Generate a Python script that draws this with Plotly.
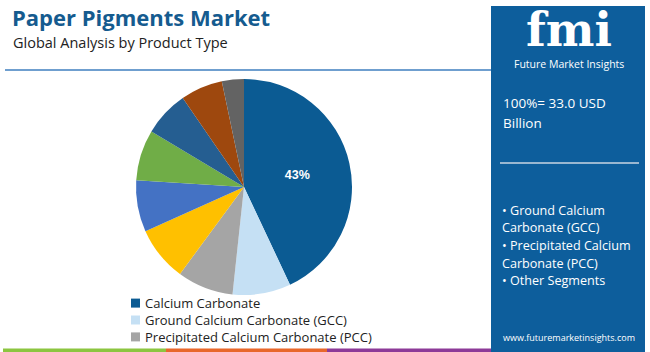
import plotly.graph_objects as go

W, H = 650, 352

labels = ["Calcium Carbonate", "Ground Calcium Carbonate (GCC)", "Precipitated Calcium Carbonate (PCC)",
          "Kaolin", "Titanium Dioxide", "Talc", "Gypsum", "Silica", "Others"]
values = [43.0, 8.7, 8.4, 8.2, 7.7, 7.6, 6.8, 6.3, 3.3]
colors = ["#0b5b93", "#c5e0f4", "#a5a5a5", "#ffc000", "#4472c4", "#70ad47", "#255e91", "#9e480e", "#636363"]
slice_text = ["<b>43%</b>", "", "", "", "", "", "", "", ""]
legend_labels = labels[:3]
legend_colors = colors[:3]
bullets = ["• Ground Calcium", "Carbonate (GCC)", "• Precipitated Calcium", "Carbonate (PCC)", "• Other Segments"]

FONT = "Open Sans"
BLUE = "#0d5e9c"

def px(x):
    return x / W

def py(y):
    return 1 - y / H

fig = go.Figure()

cx, cy, r = 244, 187, 108
fig.add_trace(go.Pie(
    labels=labels, values=values, sort=False, direction="clockwise", rotation=0,
    marker=dict(colors=colors, line=dict(width=0)),
    text=slice_text, textinfo="text", textposition="inside", insidetextorientation="horizontal",
    textfont=dict(family="Liberation Sans, Arial", size=12.5, color="white"),
    domain=dict(x=[px(cx - r), px(cx + r)], y=[py(cy + r), py(cy - r)]),
    showlegend=False, hoverinfo="label+percent",
))

shapes = []
annotations = []

# title line
shapes.append(dict(type="line", xref="paper", yref="paper", x0=px(5), x1=px(491), y0=py(70), y1=py(70),
                   line=dict(color="#3f7fbf", width=1.5)))
# bottom strip
for x0, x1, c in [(3, 166, "#8cc540"), (166, 327, "#e8672b"), (327, 491, "#8d3a98")]:
    shapes.append(dict(type="rect", xref="paper", yref="paper", x0=px(x0), x1=px(x1), y0=py(352), y1=py(348.5),
                       line=dict(width=0), fillcolor=c))
# right panel
shapes.append(dict(type="rect", xref="paper", yref="paper", x0=px(491), x1=px(645), y0=py(352), y1=py(6),
                   line=dict(width=0), fillcolor=BLUE, layer="below"))
shapes.append(dict(type="line", xref="paper", yref="paper", x0=px(500), x1=px(639), y0=py(163), y1=py(163),
                   line=dict(color="#c9d6e3", width=1.5)))

annotations.append(dict(text="<b>Paper Pigments Market</b>", x=px(10), y=py(17.5), xref="paper", yref="paper",
                        xanchor="left", yanchor="middle", showarrow=False,
                        font=dict(family=FONT, size=22, color="#155b8f")))
annotations.append(dict(text="Global Analysis by Product Type", x=px(11), y=py(42.5), xref="paper", yref="paper",
                        xanchor="left", yanchor="middle", showarrow=False,
                        font=dict(family=FONT, size=14.5, color="#222222")))

# logo
annotations.append(dict(text="<b>fmi</b>", x=px(569), y=py(30), xref="paper", yref="paper",
                        xanchor="center", yanchor="middle", showarrow=False,
                        font=dict(family="DejaVu Serif", size=46, color="white")))
annotations.append(dict(text="Future Market Insights", x=px(569), y=py(64), xref="paper", yref="paper",
                        xanchor="center", yanchor="middle", showarrow=False,
                        font=dict(family=FONT, size=10.5, color="white")))

annotations.append(dict(text="100%= 33.0 USD", x=px(501), y=py(103), xref="paper", yref="paper",
                        xanchor="left", yanchor="middle", showarrow=False,
                        font=dict(family=FONT, size=13.5, color="white")))
annotations.append(dict(text="Billion", x=px(501), y=py(123), xref="paper", yref="paper",
                        xanchor="left", yanchor="middle", showarrow=False,
                        font=dict(family=FONT, size=13.5, color="white")))
for i, b in enumerate(bullets):
    annotations.append(dict(text=b, x=px(500), y=py(210 + i * 17.7), xref="paper", yref="paper",
                            xanchor="left", yanchor="middle", showarrow=False,
                            font=dict(family=FONT, size=12.6, color="white")))
annotations.append(dict(text="www.futuremarketinsights.com", x=px(569), y=py(337), xref="paper", yref="paper",
                        xanchor="center", yanchor="middle", showarrow=False,
                        font=dict(family=FONT, size=9, color="white")))

# legend: squares + one text block
LEG_FS = 13
row = LEG_FS * 1.3
y_mid = 320
for i, col in enumerate(legend_colors):
    yy = y_mid + (i - 1) * row
    shapes.append(dict(type="rect", xref="paper", yref="paper", x0=px(131), x1=px(140), y0=py(yy + 4.5),
                       y1=py(yy - 4.5), line=dict(width=0), fillcolor=col))
annotations.append(dict(text="<br>".join(legend_labels), x=px(143), y=py(y_mid), xref="paper", yref="paper",
                        xanchor="left", yanchor="middle", align="left", showarrow=False,
                        font=dict(family=FONT, size=LEG_FS, color="#222222")))

fig.update_layout(
    width=W, height=H, margin=dict(l=0, r=0, t=0, b=0),
    paper_bgcolor="white", plot_bgcolor="white",
    shapes=shapes, annotations=annotations, showlegend=False,
)
fig.write_html("out.html")
